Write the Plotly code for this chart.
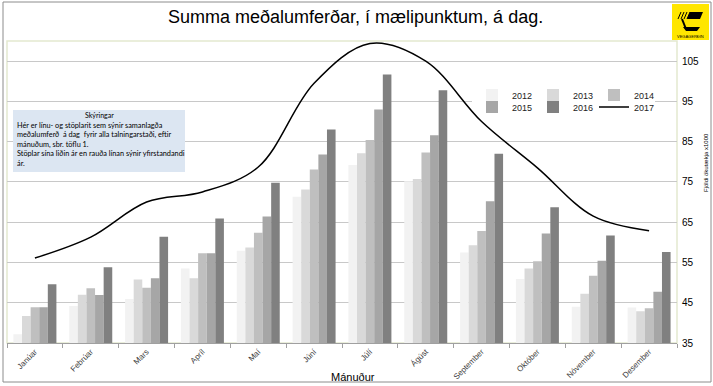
import plotly.graph_objects as go

months = ["Janúar", "Febrúar", "Mars", "Apríl", "Maí", "Júní", "Júlí",
          "Ágúst", "September", "Október", "Nóvember", "Desember"]

y2012 = [37.2, 44.2, 45.9, 53.5, 57.9, 71.3, 79.2, 75.2, 57.5, 50.9, 44.0, 43.8]
y2013 = [41.7, 47.0, 50.8, 51.1, 58.7, 73.1, 82.1, 75.7, 59.3, 53.5, 47.2, 42.9]
y2014 = [43.9, 48.6, 48.7, 57.3, 62.4, 78.1, 85.4, 82.3, 62.8, 55.3, 51.7, 43.6]
y2015 = [43.9, 46.9, 51.1, 57.3, 66.4, 81.8, 93.0, 86.6, 70.2, 62.2, 55.4, 47.7]
y2016 = [49.6, 53.8, 61.4, 65.9, 74.8, 88.0, 101.7, 97.8, 82.0, 68.7, 61.7, 57.6]
y2017 = [56.1, 61.3, 70.0, 72.5, 78.7, 99.5, 109.4, 105.0, 90.0, 78.5, 66.5, 62.9]

bar_series = [("2012", y2012, "#f2f2f2"), ("2013", y2013, "#d9d9d9"),
              ("2014", y2014, "#bfbfbf"), ("2015", y2015, "#a6a6a6"),
              ("2016", y2016, "#808080")]

# plot area in pixels: x 7..677, y 41..343
def xp(px):
    return (px - 7) / 670.0

def yp(py):
    return (343 - py) / 302.0

fig = go.Figure()
for i, (name, vals, col) in enumerate(bar_series):
    fig.add_trace(go.Bar(
        x=months, y=vals, name=name, marker=dict(color=col, line=dict(width=0)),
        legend="legend" if i < 3 else "legend2",
    ))
fig.add_trace(go.Scatter(
    x=months, y=y2017, name="2017", mode="lines",
    line=dict(color="black", width=1.5, shape="spline", smoothing=1.0),
    legend="legend2",
))

shapes = [
    # outer frame
    dict(type="rect", xref="paper", yref="paper", x0=xp(3), x1=xp(711), y0=yp(382), y1=yp(2),
         line=dict(color="#8c8c8c", width=1), layer="below"),
    # plot area frame
    dict(type="rect", xref="paper", yref="paper", x0=0, x1=1, y0=0, y1=1,
         line=dict(color="#e4e9cf", width=1.5), layer="below"),
    # info box
    dict(type="rect", xref="paper", yref="paper", x0=xp(13), x1=xp(185), y0=yp(172), y1=yp(110),
         fillcolor="#dce6f2", line=dict(width=0), layer="above"),
    # logo
    dict(type="rect", xref="paper", yref="paper", x0=xp(672), x1=xp(709), y0=yp(40), y1=yp(4),
         fillcolor="#ffe600", line=dict(width=0), layer="above"),
    dict(type="path", xref="paper", yref="paper",
         path=f"M {xp(683)},{yp(27)} L {xp(700)},{yp(27)} L {xp(697)},{yp(31)} L {xp(686)},{yp(31)} Z",
         fillcolor="black", line=dict(width=0)),
    dict(type="path", xref="paper", yref="paper",
         path=f"M {xp(690)},{yp(12)} L {xp(703)},{yp(12)} L {xp(700)},{yp(19)} L {xp(687)},{yp(19)} Z",
         fillcolor="black", line=dict(width=0)),
]
for k in range(4):
    x0 = 678 + k * 3
    shapes.append(dict(type="line", xref="paper", yref="paper",
                       x0=xp(x0), x1=xp(x0 + 3), y0=yp(19), y1=yp(12),
                       line=dict(color="black", width=1)))
shapes.append(dict(type="line", xref="paper", yref="paper",
                   x0=xp(682), x1=xp(686), y0=yp(19), y1=yp(29),
                   line=dict(color="black", width=2)))

annotations = [
    dict(text="Summa meðalumferðar, í mælipunktum, á dag.", xref="paper", yref="paper",
         x=xp(355), y=yp(17), showarrow=False, xanchor="center", yanchor="middle",
         font=dict(family="Liberation Sans, Arial", size=18, color="black")),
    dict(text="Mánuður", xref="paper", yref="paper", x=xp(353), y=yp(377), showarrow=False,
         xanchor="center", yanchor="middle",
         font=dict(family="Liberation Sans, Arial", size=11, color="black")),
    dict(text="Fjöldi ökutækja x1000", xref="paper", yref="paper", x=xp(706), y=yp(163),
         showarrow=False, textangle=-90, xanchor="center", yanchor="middle",
         font=dict(family="Liberation Sans, Arial", size=6, color="black")),
    dict(text="Skýringar", xref="paper", yref="paper", x=xp(99), y=yp(115), showarrow=False,
         xanchor="center", yanchor="middle",
         font=dict(family="Lato", size=7, color="black")),
    dict(text=("Hér er línu- og stöplarit sem sýnir samanlagða<br>"
               "meðalumferð  á dag  fyrir alla talningarstaði, eftir<br>"
               "mánuðum, sbr. töflu 1.<br>"
               "Stöplar sína liðin ár en rauða línan sýnir yfirstandandi<br>"
               "ár."),
         xref="paper", yref="paper", x=xp(15), y=yp(119), showarrow=False,
         xanchor="left", yanchor="top", align="left",
         font=dict(family="Lato", size=7.3, color="black")),
    dict(text="VEGAGERÐIN", xref="paper", yref="paper", x=xp(690.5), y=yp(36), showarrow=False,
         xanchor="center", yanchor="middle",
         font=dict(family="Liberation Sans, Arial", size=4, color="black")),
]

fig.update_layout(
    width=713, height=386,
    margin=dict(l=7, r=36, t=41, b=43, autoexpand=False),
    paper_bgcolor="white", plot_bgcolor="white",
    barmode="group", bargap=0.23, bargroupgap=0.0,
    font=dict(family="Liberation Sans, Arial", color="black"),
    showlegend=True,
    legend=dict(orientation="h", x=xp(472), y=yp(95), xanchor="left", yanchor="middle",
                bgcolor="white", borderwidth=0, entrywidth=16, itemwidth=30,
                font=dict(size=9, color="#222222"), traceorder="normal"),
    legend2=dict(orientation="h", x=xp(472), y=yp(107), xanchor="left", yanchor="middle",
                 bgcolor="rgba(0,0,0,0)", borderwidth=0, entrywidth=16, itemwidth=30,
                 font=dict(size=9, color="#222222"), traceorder="normal"),
    xaxis=dict(type="category", tickson="boundaries", ticks="outside", ticklen=4,
               tickcolor="#a0a0a0", showline=True, linecolor="#a0a0a0", linewidth=1,
               tickangle=-45, tickfont=dict(size=8, color="#404040"), showgrid=False),
    yaxis=dict(side="right", range=[35, 110], tick0=35, dtick=10, showgrid=True,
               gridcolor="#c8c8c8", gridwidth=1, zeroline=False, ticks="",
               tickfont=dict(size=10, color="black"), showline=False, ticklabelstandoff=4),
    shapes=shapes, annotations=annotations,
)

fig.write_html("out.html", config={"displayModeBar": False},
               post_script="document.body.style.margin='0px';document.body.style.overflow='hidden';")
